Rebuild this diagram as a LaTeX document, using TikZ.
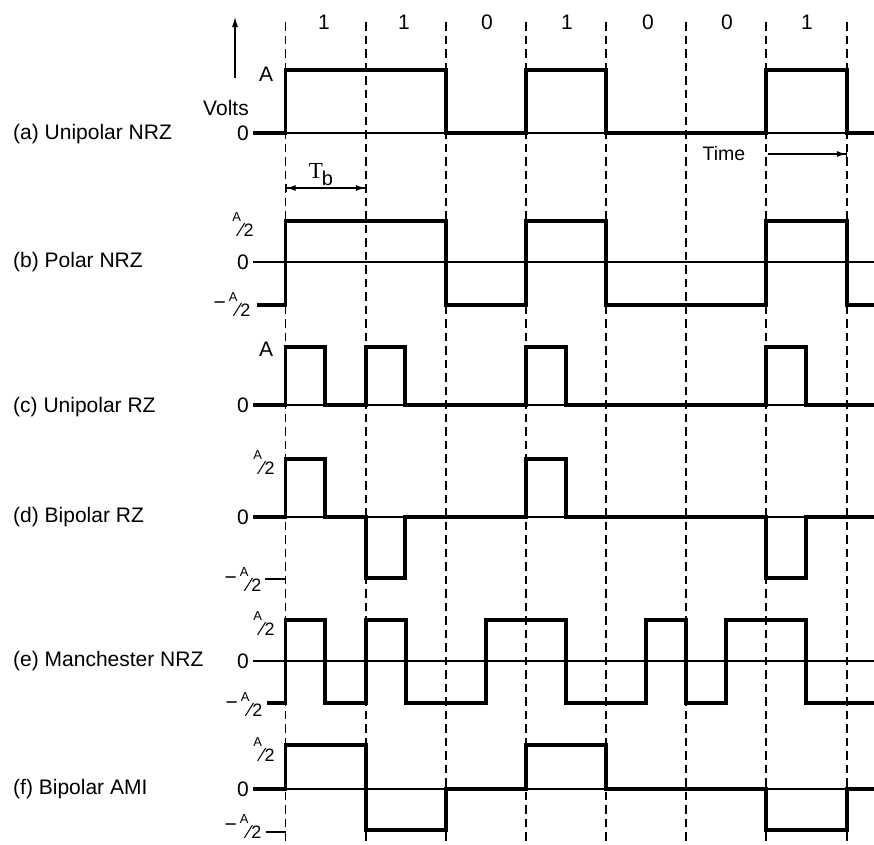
\documentclass[tikz,border=0pt]{standalone}
\usepackage{fontspec}
\setmainfont{Liberation Sans}
\newfontfamily\serifTb{Liberation Serif}
\usetikzlibrary{arrows.meta}
\newcommand{\halfA}{\raisebox{8pt}{\fontsize{13}{13}\selectfont A}\kern-1pt\raisebox{-6.5pt}{\fontsize{19}{19}\selectfont ⁄}\kern0.5pt\raisebox{-7pt}{\fontsize{18}{18}\selectfont 2}}
\begin{document}
\begin{tikzpicture}[x=1pt,y=-1pt,
  lbl/.style={font=\fontsize{21}{23}\selectfont, inner sep=0pt},
  sig/.style={line width=3.5pt, line join=miter},
  axisline/.style={line width=1.3pt},
  gridline/.style={line width=1.4pt, dash pattern=on 8.5pt off 5pt},
  thinarrow/.style={line width=1.1pt},
]
\useasboundingbox (0,0) rectangle (874,844);
% bit boundaries
\foreach \x in {285.5,366,446,526,606,686,766,847}
  \draw[gridline] (\x,22) -- (\x,844);
% bit values
\foreach \x/\b [count=\i] in {324/1,404/1,487/0,567/1,648/0,727/0,807/1}
  \node[lbl] (bit\i) at (\x,22) {\b};
% axes
\foreach \y in {133,262,405,517,661,789}
  \draw[axisline] (253,\y) -- (874,\y);
% (a) Unipolar NRZ
\node[lbl,anchor=west] (la) at (13,134) {(a) Unipolar NRZ};
\draw[sig] (253,133) -| (285.5,70) -| (446,133) -| (526,70) -| (606,133) -| (766,70) -| (847,133) -- (874,133);
\node[lbl] (aA) at (266,74) {A};
\node[lbl] (a0) at (243,133) {0};
\node[lbl] (volts) at (226,108) {Volts};
\coordinate (vb) at (235,78);
\coordinate (vt) at (235,17);
\draw[thinarrow,-{Latex[length=10pt,width=6pt]}] (vb) -- (vt);
\coordinate (tbl) at (285.5,188);
\coordinate (tbr) at (366,188);
\draw[thinarrow,{Bar[width=8pt]Latex[length=9pt,width=6pt]}-{Latex[length=9pt,width=6pt]Bar[width=8pt]}] (tbl) -- (tbr);
\node[lbl] (tb) at (321,175) {{\serifTb\fontsize{23}{23}\selectfont T}\kern-1pt\raisebox{-7pt}{\fontsize{20}{20}\selectfont b}};
\node[lbl,font=\fontsize{19.5}{21}\selectfont] (time) at (724,154) {Time};
\coordinate (ts) at (768,154);
\coordinate (te) at (847,154);
\draw[thinarrow,-{Latex[length=9pt,width=6pt]Bar[width=8pt]}] (ts) -- (te);
% (b) Polar NRZ
\node[lbl,anchor=west] (lb) at (13,262) {(b) Polar NRZ};
\draw[sig] (257,305) -| (285.5,221) -| (446,305) -| (526,221) -| (606,305) -| (766,221) -| (847,305) -- (874,305);
\node[lbl] (bA) at (243,225) {\halfA};
\node[lbl] (b0) at (243,262) {0};
\node[lbl] (bm) at (232,305) {−\kern3pt\halfA};
% (c) Unipolar RZ
\node[lbl,anchor=west] (lc) at (13,407) {(c) Unipolar RZ};
\draw[sig] (253,405) -| (285.5,347) -| (325,405) -| (366,347) -| (405,405) -| (526,347) -| (566,405) -| (766,347) -| (806,405) -- (874,405);
\node[lbl] (cA) at (266,349) {A};
\node[lbl] (c0) at (243,405) {0};
% (d) Bipolar RZ
\node[lbl,anchor=west] (ld) at (13,517) {(d) Bipolar RZ};
\draw[sig] (253,517) -| (285.5,459) -| (325,517) -| (366,578) -| (405,517) -| (526,459) -| (566,517) -| (766,578) -| (806,517) -- (874,517);
\node[lbl] (dA) at (264,463) {\halfA};
\node[lbl] (d0) at (243,517) {0};
\node[lbl] (dm) at (243,580) {−\kern3pt\halfA};
\coordinate (dt1) at (265,579);
\coordinate (dt2) at (285.5,579);
\draw[line width=1.5pt] (dt1) -- (dt2);
% (e) Manchester NRZ
\node[lbl,anchor=west] (le) at (13,661) {(e) Manchester NRZ};
\draw[sig] (267,703) -| (285.5,620) -| (325,703) -| (366,620) -| (406,703) -| (486,620) -| (566,703) -| (646,620) -| (686,703) -| (726,620) -| (806,703) -- (874,703);
\node[lbl] (eA) at (264,624) {\halfA};
\node[lbl] (e0) at (243,661) {0};
\node[lbl] (em) at (244,705) {−\kern3pt\halfA};
% (f) Bipolar AMI
\node[lbl,anchor=west] (lf) at (13,789) {(f) Bipolar AMI};
\draw[sig] (253,789) -| (285.5,745) -| (366,830) -| (446,789) -| (526,745) -| (606,789) -| (766,830) -| (847,789) -- (874,789);
\node[lbl] (fA) at (264,750) {\halfA};
\node[lbl] (f0) at (243,789) {0};
\node[lbl] (fm) at (243,827) {−\kern3pt\halfA};
\coordinate (ft1) at (266,832);
\coordinate (ft2) at (285.5,832);
\draw[line width=1.5pt] (ft1) -- (ft2);
\end{tikzpicture}
\end{document}
